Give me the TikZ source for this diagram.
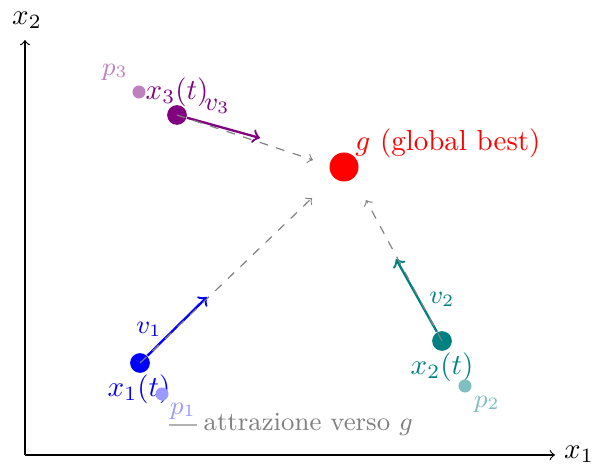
\documentclass[tikz,border=0pt]{standalone}
\usetikzlibrary{calc}
\begin{document}
\begin{tikzpicture}[x=0.3448pt,y=-0.3448pt,
  dot/.style={circle,fill,inner sep=0pt,minimum size=6.8pt},
  pdot/.style={circle,fill,inner sep=0pt,minimum size=4.5pt},
  vel/.style={->,thick},
  attr/.style={->,gray,dashed,thin},
  lbl/.style={inner sep=0pt,font=\small}]
\useasboundingbox (0,0) rectangle (595,468);
% axes
\coordinate (O) at (25,455);
\coordinate (X) at (555,455);
\coordinate (Y) at (25,40);
\draw[->] (O) -- (X);
\draw[->] (O) -- (Y);
\node[inner sep=0pt] (xl) at (579,454) {$x_1$};
\node[inner sep=0pt] (yl) at (27,20) {$x_2$};
% global best
\node[dot,red,minimum size=10pt] (g) at (344,167) {};
\node[red,inner sep=0pt] (gl) at (448,143) {$g$ (global best)};
% particle 1
\node[dot,blue] (x1) at (140,363) {};
\node[inner sep=0pt,blue] (x1l) at (139,389) {$x_1(t)$};
\node[pdot,blue!40] (p1) at (162,394) {};
\node[lbl,blue!40] (p1l) at (183,411) {$p_1$};
\coordinate (v1) at (207,297);
\draw[vel,blue] (x1) -- (v1);
\node[lbl,blue] (v1l) at (149,329) {$v_1$};
% particle 2
\node[dot,teal] (x2) at (442,341) {};
\node[inner sep=0pt,teal] (x2l) at (442,367) {$x_2(t)$};
\node[pdot,teal!50] (p2) at (465,386) {};
\node[lbl,teal!50] (p2l) at (487,404) {$p_2$};
\coordinate (v2) at (396,259);
\draw[vel,teal] (x2) -- (v2);
\node[lbl,teal] (v2l) at (442,299) {$v_2$};
% particle 3
\node[dot,violet] (x3) at (177,115) {};
\node[inner sep=0pt,violet] (x3l) at (177,92) {$x_3(t)$};
\node[pdot,violet!50] (p3) at (139,92) {};
\node[lbl,violet!50] (p3l) at (115,72) {$p_3$};
\coordinate (v3) at (260,138);
\draw[vel,violet] (x3) -- (v3);
\node[lbl,violet] (v3l) at (217,106) {$v_3$};
% attraction towards g
\coordinate (t1) at (312,198);
\coordinate (t2) at (366,200);
\coordinate (t3) at (313,160);
\draw[attr] (x1.center) -- (t1);
\draw[attr] (x2.center) -- (t2);
\draw[attr] (x3.center) -- (t3);
% legend
\coordinate (la) at (169,425);
\coordinate (lb) at (197,425);
\draw[gray!60,thin] (la) -- (lb);
\node[lbl,gray,anchor=west] (lt) at (203,424) {attrazione verso $g$};
\end{tikzpicture}
\end{document}
